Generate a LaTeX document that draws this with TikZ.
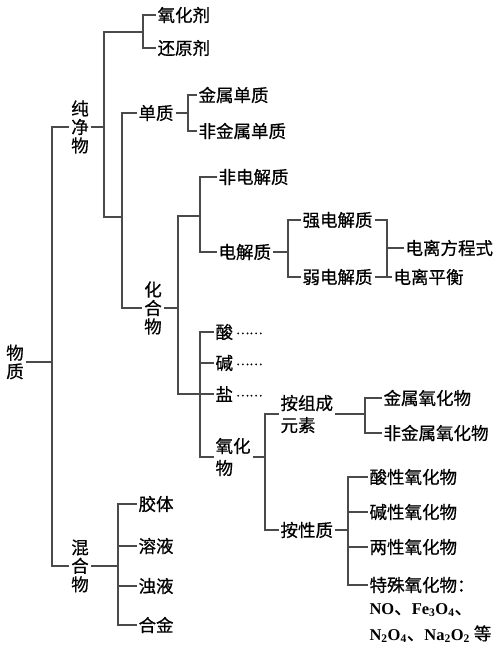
\documentclass[tikz,border=0pt]{standalone}
\usepackage{fontspec}
\newfontfamily\cjk{Noto Sans CJK SC}[BoldFont={Noto Sans CJK SC}, BoldFeatures={FakeBold=0.6}]
\newfontfamily\lat{Liberation Serif}
\definecolor{lnc}{HTML}{4A4A4A}
\newcommand\dd{\hspace{3pt}\raisebox{4.5pt}{\fontsize{12.5}{12.5}\selectfont ……}}
\newcommand\ch[1]{{\lat\fontsize{16.5}{18}\selectfont #1}}
\begin{document}
\begin{tikzpicture}[x=1pt, y=-1pt, line width=1.1pt, lnc,
  main/.style = {anchor=west, inner sep=1.5pt, text=black, font=\cjk\bfseries\fontsize{17.5}{18.5}\selectfont},
  stack/.style = {inner sep=1.5pt, text=black, align=center, font=\cjk\bfseries\fontsize{17.5}{18.5}\selectfont},
  two/.style = {main, align=left, font=\cjk\bfseries\fontsize{17.5}{22}\selectfont}]
\useasboundingbox (0,0) rectangle (500,645);

\node[stack] (1) at (15,362)  {物\\质};
\node[stack] (2) at (80,127)  {纯\\净\\物};
\node[stack] (3) at (80,566)  {混\\合\\物};
\node[main] (4)  at (155.5,15)  {氧化剂};
\node[main] (5)  at (155.5,48)  {还原剂};
\node[main] (6)  at (136.5,113) {单质};
\node[main] (7)  at (196.5,95)  {金属单质};
\node[main] (8)  at (196.5,131) {非金属单质};
\node[stack] (9) at (153,308) {化\\合\\物};
\node[main] (10) at (216.5,177) {非电解质};
\node[main] (11) at (216.5,252) {电解质};
\node[main] (12) at (300.5,220) {强电解质};
\node[main] (13) at (300.5,277) {弱电解质};
\node[main] (14) at (403.5,248) {电离方程式};
\node[main] (15) at (391.5,277) {电离平衡};
\node[main] (16) at (213.5,332) {酸\dd};
\node[main] (17) at (213.5,363) {碱\dd};
\node[main] (18) at (213.5,394) {盐\dd};
\node[two]  (19) at (213.5,457) {氧化\\物};
\node[two]  (20) at (278.5,414) {按组成\\元素};
\node[main] (21) at (278.5,530) {按性质};
\node[main] (22) at (381.5,398) {金属氧化物};
\node[main] (23) at (381.5,433) {非金属氧化物};
\node[main] (24) at (367.5,477) {酸性氧化物};
\node[main] (25) at (367.5,512) {碱性氧化物};
\node[main] (26) at (367.5,547) {两性氧化物};
\node[main] (27) at (367.5,585) {特殊氧化物：};
\node[main] (28) at (367.5,610) {\ch{NO}、\ch{Fe\textsubscript{3}O\textsubscript{4}}、};
\node[main] (29) at (367.5,634) {\ch{N\textsubscript{2}O\textsubscript{4}}、\ch{Na\textsubscript{2}O\textsubscript{2}} 等};
\node[main] (30) at (136.5,504) {胶体};
\node[main] (31) at (136.5,546) {溶液};
\node[main] (32) at (136.5,586) {浊液};
\node[main] (33) at (136.5,625) {合金};

\coordinate (j0)  at (52,362);
\coordinate (j1)  at (104,127);
\coordinate (j2)  at (143,32);
\coordinate (j3)  at (122,217);
\coordinate (j4)  at (188,113);
\coordinate (j5)  at (178,308);
\coordinate (j6)  at (200,216);
\coordinate (j7)  at (288,252);
\coordinate (j8)  at (387,248);
\coordinate (j9)  at (200,363);
\coordinate (j10) at (265,457);
\coordinate (j11) at (365,414);
\coordinate (j12) at (348,530);
\coordinate (j13) at (118,566);

\draw (1.east) -- (j0);
\draw (2.west) -| (j0) |- (3.west);
\draw (2.east) -- (j1);
\draw (4.west) -| (j2) |- (5.west);
\draw (j2) -| (j1) |- (j3);
\draw (6.west) -| (j3) |- (9.west);
\draw (6.east) -- (j4);
\draw (7.west) -| (j4) |- (8.west);
\draw (9.east) -- (j5);
\draw (j6) -| (j5) |- (18.west);
\draw (10.west) -| (j6) |- (11.west);
\draw (11.east) -- (j7);
\draw (12.west) -| (j7) |- (13.west);
\draw (12.east) -| (j8) |- (13.east);
\draw (j8) -- (14.west);
\draw (13.east) -- (15.west);
\draw (16.west) -| (j9) |- (19.west);
\draw (17.west) -- (j9);
\draw (19.east) -- (j10);
\draw (20.west) -| (j10) |- (21.west);
\draw (20.east) -- (j11);
\draw (22.west) -| (j11) |- (23.west);
\draw (21.east) -- (j12);
\draw (24.west) -| (j12) |- (27.west);
\draw (25.west) -- (j12 |- 25.west);
\draw (26.west) -- (j12 |- 26.west);
\draw (3.east) -- (j13);
\draw (30.west) -| (j13) |- (33.west);
\draw (31.west) -- (j13 |- 31.west);
\draw (32.west) -- (j13 |- 32.west);

\end{tikzpicture}
\end{document}
